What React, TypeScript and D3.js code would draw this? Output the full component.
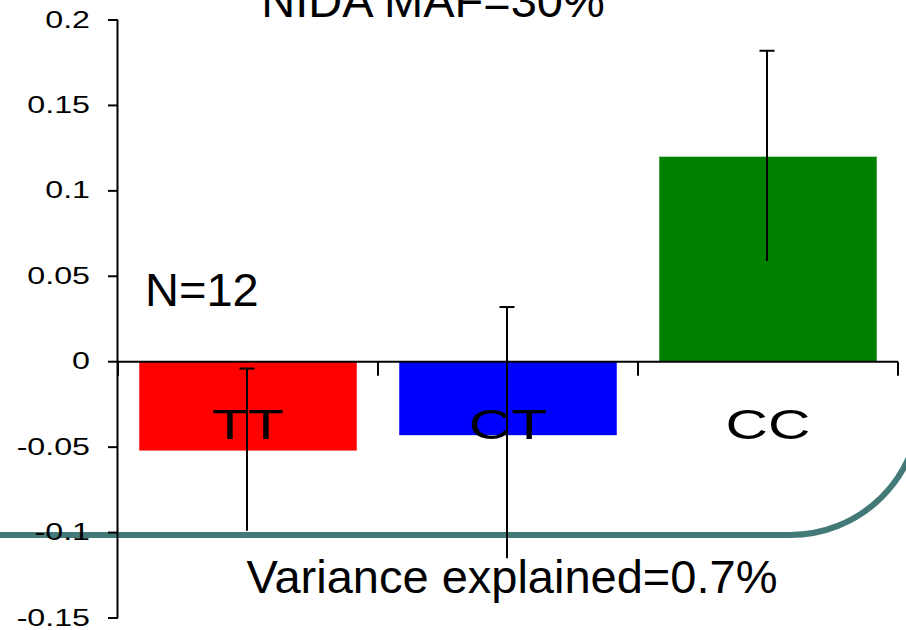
import React from "react";
import * as d3 from "d3";

const categories = ["TT", "CT", "CC"];
const means = [-0.052, -0.043, 0.12];
const upperErr = [-0.004, 0.032, 0.182];
const lowerErr = [-0.099, -0.115, 0.059];
const barColors = ["#ff0000", "#0000ff", "#008000"];
const yTicks = [0.2, 0.15, 0.1, 0.05, 0, -0.05, -0.1, -0.15];
const yTickLabels = ["0.2", "0.15", "0.1", "0.05", "0", "-0.05", "-0.1", "-0.15"];
const title = "NIDA MAF=30%";
const nLabel = "N=12";
const varianceLabel = "Variance explained=0.7%";

const W = 906;
const H = 630;
const FONT = "'Liberation Sans', Arial, Helvetica, sans-serif";

export default function App() {
  const x = d3
    .scaleBand<string>()
    .domain(categories)
    .range([118, 898])
    .paddingInner(0.1635)
    .paddingOuter(0.1635 / 2);
  const y = d3.scaleLinear().domain([-0.15, 0.2]).range([618, 20]);
  const y0 = y(0);
  const bw = x.bandwidth();
  const step = x.step();
  const catTicks = [0, 1, 2, 3].map((i) => 118 + i * step);

  return (
    <svg
      width={W}
      height={H}
      style={{ position: "fixed", left: 0, top: 0, background: "#fff" }}
      fontFamily={FONT}
    >
      <rect x={0} y={0} width={W} height={H} fill="#fff" />
      {/* decorative teal frame line */}
      <path
        d={`M-5,535 H790 A130,130 0 0 0 920,405`}
        fill="none"
        stroke="#437a78"
        strokeWidth={6}
      />
      {/* bars */}
      {categories.map((c, i) => {
        const v = means[i];
        const top = Math.min(y(v), y0);
        const h = Math.abs(y(v) - y0);
        return <rect key={c} x={x(c)} y={top} width={bw} height={h} fill={barColors[i]} />;
      })}
      {/* y axis */}
      <line x1={117.5} x2={117.5} y1={y(0.2)} y2={y(-0.15)} stroke="#000" strokeWidth={2} />
      {yTicks.map((t, i) => (
        <g key={t}>
          <line x1={108} x2={118} y1={y(t)} y2={y(t)} stroke="#000" strokeWidth={2} />
          <text
            transform={`translate(90,${y(t) + 7.5}) scale(1.4,1)`}
            textAnchor="end"
            fontSize={23}
            fill="#000"
          >
            {yTickLabels[i]}
          </text>
        </g>
      ))}
      {/* zero axis */}
      <line x1={117} x2={898} y1={y0} y2={y0} stroke="#000" strokeWidth={2} />
      {catTicks.map((cx, i) => (
        <line key={i} x1={cx} x2={cx} y1={y0} y2={y0 + 14} stroke="#000" strokeWidth={2} />
      ))}
      {/* error bars */}
      {categories.map((c, i) => {
        const cx = (x(c) as number) + bw / 2 - 1;
        return (
          <g key={c}>
            <line x1={cx} x2={cx} y1={y(upperErr[i])} y2={y(lowerErr[i])} stroke="#000" strokeWidth={2} />
            <line x1={cx - 7.5} x2={cx + 7.5} y1={y(upperErr[i])} y2={y(upperErr[i])} stroke="#000" strokeWidth={2} />
          </g>
        );
      })}
      {/* category labels */}
      {categories.map((c) => (
        <text
          key={c}
          transform={`translate(${(x(c) as number) + bw / 2},439) scale(1.4,1)`}
          textAnchor="middle"
          fontSize={42}
          fill="#000"
        >
          {c}
        </text>
      ))}
      {/* slide texts */}
      <text x={433} y={16.5} textAnchor="middle" fontSize={47} fill="#000">
        {title}
      </text>
      <text x={145} y={306} fontSize={47} fill="#000">
        {nLabel}
      </text>
      <text x={512} y={593} textAnchor="middle" fontSize={47} fill="#000">
        {varianceLabel}
      </text>
    </svg>
  );
}
